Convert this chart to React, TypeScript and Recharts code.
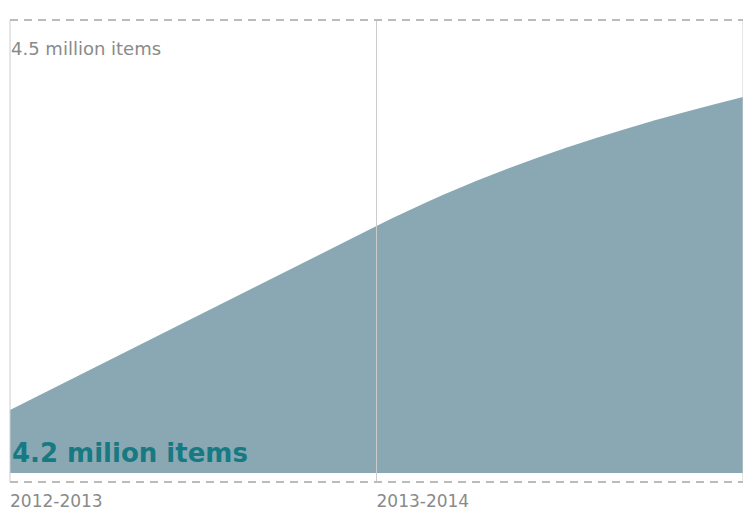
import { AreaChart, Area, XAxis, YAxis, ReferenceLine } from 'recharts'

const periods = ['2012-2013', '2013-2014', '2014-2015']
const items = [13.9, 54.5, 83.0]

const data = periods.map((name, i) => ({ name, items: items[i] }))

const gray = '#8a8a8a'
const font = '"DejaVu Sans", sans-serif'

// straight lines at first, easing off on the last stretch
const easeCurve = (context: any) => {
    let pts: number[][] = []
    let line = NaN
    const draw = () => {
        pts.forEach((p, i) => {
            if (i === 0) {
                if (line) context.lineTo(p[0], p[1])
                else context.moveTo(p[0], p[1])
                return
            }
            const prev = pts[i - 1]
            const h = p[0] - prev[0]
            const s = h === 0 ? 0 : (p[1] - prev[1]) / h
            if (i < pts.length - 1 || pts.length < 3 || h === 0) {
                context.lineTo(p[0], p[1])
                return
            }
            const pp = pts[i - 2]
            const t0 = (prev[1] - pp[1]) / (prev[0] - pp[0])
            const t1 = s - 0.7 * (t0 - s)
            context.bezierCurveTo(
                prev[0] + h / 3, prev[1] + (t0 * h) / 3,
                p[0] - h / 3, p[1] - (t1 * h) / 3,
                p[0], p[1]
            )
        })
    }
    return {
        areaStart() { line = 0 },
        areaEnd() { line = NaN },
        lineStart() { pts = [] },
        lineEnd() {
            draw()
            if (line || (line !== 0 && pts.length === 1)) context.closePath()
            line = 1 - line
        },
        point(x: number, y: number) { pts.push([+x, +y]) },
    }
}

const renderTick = (props: any) => {
    const { x, y, payload, index } = props
    if (index === periods.length - 1) return <g />
    return (
        <text x={x} y={y} dy={17} textAnchor="start" fill={gray} fontSize={17} fontFamily={font}>
            {payload.value}
        </text>
    )
}

export default function App() {
    return (
        <div style={{ position: 'absolute', left: 0, top: 0, width: 743, height: 512, background: '#fff' }}>
            <AreaChart width={743} height={512} data={data} margin={{ top: 20, right: 0, bottom: 0, left: 10 }}>
                <XAxis
                    dataKey="name"
                    axisLine={false}
                    tickLine={false}
                    height={30}
                    interval={0}
                    tick={renderTick}
                />
                <YAxis hide domain={[-2, 100]} type="number" allowDataOverflow />
                <ReferenceLine x="2012-2013" stroke="#cccccc" />
                <ReferenceLine x="2013-2014" stroke="#cccccc" />
                <ReferenceLine x="2014-2015" stroke="#cccccc" />
                <ReferenceLine y={100} stroke="#bbbbbb" strokeWidth={2} strokeDasharray="8 6" />
                <ReferenceLine y={-2} stroke="#bbbbbb" strokeWidth={2} strokeDasharray="8 6" />
                <Area
                    type={easeCurve as any}
                    dataKey="items"
                    baseValue={0}
                    stroke="none"
                    fill="#8aa8b3"
                    fillOpacity={1}
                    isAnimationActive={false}
                />
            </AreaChart>
            <svg width={743} height={512} style={{ position: 'absolute', left: 0, top: 0, pointerEvents: 'none' }}>
                <text x={11} y={55} fontFamily={font} fontSize={18} fill={gray}>
                    4.5 million items
                </text>
                <text x={12} y={462} fontFamily={font} fontSize={26} fontWeight={700} fill="#177a82">
                    4.2 milion items
                </text>
            </svg>
        </div>
    )
}
